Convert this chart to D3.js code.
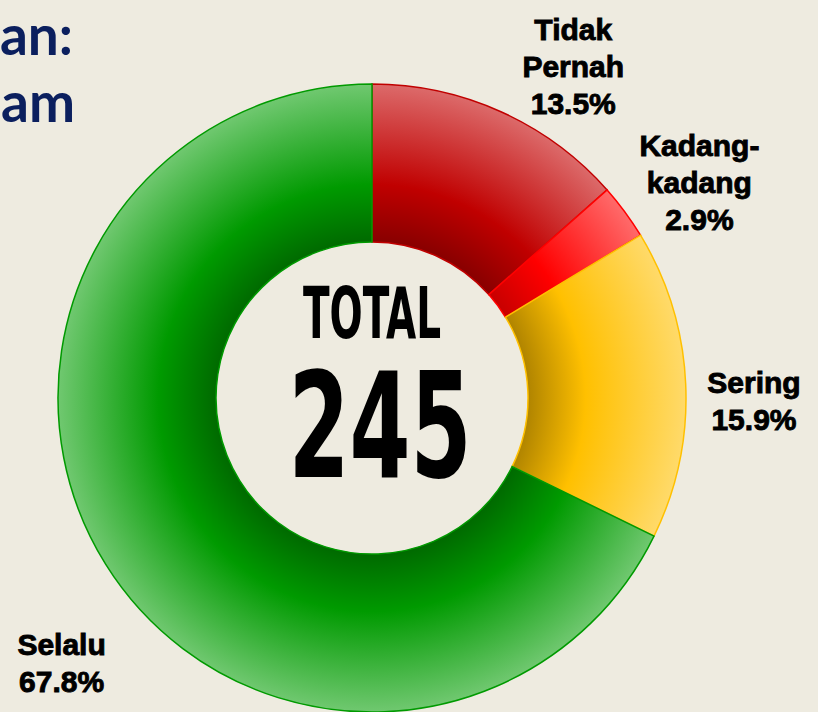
<!DOCTYPE html>
<html>
<head>
<meta charset="utf-8">
<script src="https://cdn.jsdelivr.net/npm/d3@7"></script>
<style>
  html, body { margin: 0; padding: 0; background: #eeebe0; overflow: hidden; }
  svg { display: block; }
  .title { font-family: Lato, "Open Sans", sans-serif; font-weight: 700; fill: #0b1f5e; }
  .pieLabel { font-family: "Liberation Sans", Arial, sans-serif; font-weight: 700; fill: #000; stroke: #000; stroke-width: 0.9px; }
  .total { font-family: "DejaVu Sans Condensed", "DejaVu Sans", sans-serif; font-weight: 700; fill: #000; }
</style>
</head>
<body>
<script>
// Data
const categories = ["Tidak Pernah", "Kadang-kadang", "Sering", "Selalu"];
const labelLines = [["Tidak", "Pernah"], ["Kadang-", "kadang"], ["Sering"], ["Selalu"]];
const counts = [33, 7, 39, 166];
const percents = ["13.5%", "2.9%", "15.9%", "67.8%"];
const totalLabel = "TOTAL";
const titleLines = ["an:", "am"];

const width = 818, height = 712;
const cx = 372, cy = 398;
const outerR = 314, innerR = 156;

// slice colours: [dark (inner), base, light (outer)]
const sliceColors = [
  ["#880000", "#c00000", "#dc6a6a"],
  ["#c80000", "#ff0000", "#ff6a6a"],
  ["#b08400", "#ffc000", "#ffda6a"],
  ["#006a00", "#009a00", "#70c870"]
];

// nudges to push the labels where the original put them (degrees, px)
const labelNudge = [[7, 0], [3, 4], [3, -6], [-8.5, 20]];

const svg = d3.select("body").append("svg")
    .attr("width", width)
    .attr("height", height);

svg.append("rect")
    .attr("width", width)
    .attr("height", height)
    .attr("fill", "#eeebe0");

// title fragments (cut off at the left edge in the original)
svg.selectAll(".title")
    .data(titleLines)
    .enter().append("text")
    .attr("class", "title")
    .attr("x", function(d, i){ return i == 0 ? 73 : 75; })
    .attr("y", function(d, i){ return 55 + i * 67; })
    .attr("text-anchor", "end")
    .style("font-size", "55px")
    .text(function(d){ return d; });

// gradients, dark at the hole and light at the rim (centred on the pie group origin)
const defs = svg.append("defs");
sliceColors.forEach(function(c, i){
    const g = defs.append("radialGradient")
        .attr("id", "grad" + i)
        .attr("gradientUnits", "userSpaceOnUse")
        .attr("cx", 0).attr("cy", 0).attr("r", outerR);
    g.append("stop").attr("offset", innerR / outerR).attr("stop-color", c[0]);
    g.append("stop").attr("offset", 0.68).attr("stop-color", c[1]);
    g.append("stop").attr("offset", 1).attr("stop-color", c[2]);
});

let pie = d3.pie().sort(null);

let ringArc = d3.arc()
    .innerRadius(innerR)
    .outerRadius(outerR);

const pieG = svg.append("g")
    .attr("transform", "translate(" + cx + "," + cy + ")");

const arcs = pie(counts);

pieG.selectAll(".slice")
    .data(arcs)
    .enter().append("path")
    .attr("class", "slice")
    .attr("d", ringArc)
    .attr("fill", function(d, i){ return "url(#grad" + i + ")"; })
    .attr("stroke", function(d, i){ return sliceColors[i][1]; })
    .attr("stroke-width", 1.5);

// outside labels
const lineH = 37;
arcs.forEach(function(d, i){
    const a = (d.startAngle + d.endAngle) / 2 + labelNudge[i][0] * Math.PI / 180;
    const r = 388 + labelNudge[i][1];
    const px = r * Math.sin(a), py = -r * Math.cos(a);
    const lines = labelLines[i].concat([percents[i]]);
    const t = pieG.append("text")
        .attr("class", "pieLabel")
        .attr("text-anchor", "middle")
        .style("font-size", "30px");
    lines.forEach(function(s, k){
        t.append("tspan")
            .attr("x", px)
            .attr("y", py + (k - (lines.length - 1) / 2) * lineH + 11)
            .text(s);
    });
});

// centre total
pieG.append("text")
    .attr("class", "total")
    .attr("x", 0)
    .attr("y", -60)
    .attr("text-anchor", "middle")
    .attr("textLength", 138)
    .attr("lengthAdjust", "spacingAndGlyphs")
    .style("font-size", "72px")
    .text(totalLabel);

pieG.append("text")
    .attr("class", "total")
    .attr("x", 8)
    .attr("y", 79)
    .attr("text-anchor", "middle")
    .attr("textLength", 183)
    .attr("lengthAdjust", "spacingAndGlyphs")
    .style("font-size", "147px")
    .text(d3.sum(counts));
</script>
</body>
</html>
